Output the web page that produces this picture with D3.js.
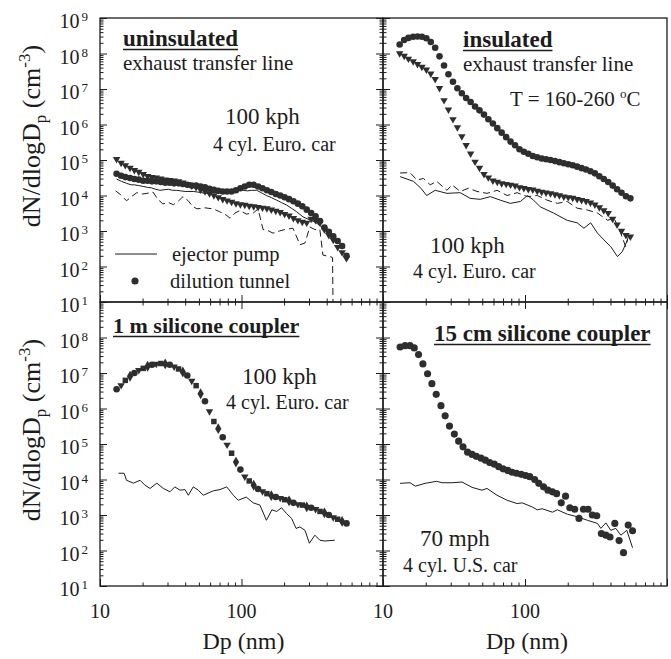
<!DOCTYPE html>
<html>
<head>
<meta charset="utf-8">
<script src="https://cdn.jsdelivr.net/npm/d3@7"></script>
<style>
  html, body { margin: 0; padding: 0; background: #fff; }
  svg text { font-family: "Liberation Serif", "Times New Roman", serif; fill: #1c1c1c; }
</style>
</head>
<body>
<svg id="chart" width="671" height="659"></svg>
<script>
// SMPS channel mid-point diameters (nm), shared by the marker series
const dpChannels = [13.1, 14.1, 15.1, 16.3, 17.5, 18.8, 20.2, 21.7, 23.3, 25.0,
  26.9, 28.9, 31.1, 33.4, 35.9, 38.5, 41.4, 44.5, 47.8, 51.4,
  55.2, 59.4, 63.8, 68.5, 73.7, 79.1, 85.1, 91.4, 98.2, 105.5,
  113.4, 121.9, 131.0, 140.7, 151.2, 162.5, 174.7, 187.7, 201.7, 216.7,
  232.9, 250.3, 269.0, 289.0, 310.6, 333.8, 358.7, 385.4, 414.2, 445.1,
  478.3, 514.0, 552.3];

// uninsulated line, dilution tunnel (two runs)
const tlTunnelCircle = [4.1e4, 3.6e4, 3.3e4, 3.1e4, 2.9e4, 2.8e4, 2.6e4, 2.6e4, 2.5e4, 2.5e4,
  2.4e4, 2.3e4, 2.3e4, 2.2e4, 2.2e4, 2.1e4, 2.0e4, 1.9e4, 1.9e4, 1.8e4,
  1.7e4, 1.55e4, 1.45e4, 1.35e4, 1.3e4, 1.3e4, 1.3e4, 1.4e4, 1.6e4, 1.8e4,
  2.0e4, 2.0e4, 1.8e4, 1.6e4, 1.4e4, 1.26e4, 1.1e4, 1.0e4, 8.9e3, 7.9e3,
  6.9e3, 5.9e3, 5.0e3, 4.0e3, 3.2e3, 2.6e3, 1.9e3, 1.26e3, 950, 710,
  520, 380, 200];
const tlTunnelTri = [1.05e5, 8.3e4, 7.1e4, 6.0e4, 5.2e4, 4.6e4, 4.0e4, 3.5e4, 3.3e4, 3.2e4,
  3.0e4, 2.8e4, 2.7e4, 2.6e4, 2.5e4, 2.3e4, 2.1e4, 1.9e4, 1.7e4, 1.45e4,
  1.3e4, 1.15e4, 1.0e4, 8.9e3, 7.9e3, 7.2e3, 6.6e3, 6.0e3, 5.6e3, 5.4e3,
  5.1e3, 4.9e3, 4.7e3, 4.5e3, 4.3e3, 4.0e3, 3.7e3, 3.4e3, 3.0e3, 2.7e3,
  2.3e3, 2.0e3, 1.8e3, 1.7e3, 2.2e3, 2.0e3, 1.7e3, 1.1e3, 760, 560,
  350, 250, 170];
// uninsulated line, ejector pump (two runs) as [Dp, dN/dlogDp]
const tlEjectorSolid = [[13.1, 2.9e4], [14.2, 2.5e4], [15.4, 2.2e4], [16.6, 2.0e4], [17.5, 2.0e4],
  [18.8, 1.9e4], [20.2, 1.8e4], [21.6, 1.7e4], [23.0, 1.65e4], [24.7, 1.5e4], [26.5, 1.4e4],
  [28.4, 1.45e4], [30.5, 1.5e4], [32.6, 1.4e4], [34.8, 1.4e4], [37.3, 1.35e4], [40.0, 1.3e4],
  [45.6, 1.3e4], [49.0, 1.25e4], [52.4, 1.2e4], [56.0, 1.15e4], [59.8, 1.15e4], [64.0, 1.2e4],
  [68.5, 1.3e4], [73.4, 1.25e4], [78.6, 1.3e4], [90.0, 1.35e4], [103, 1.4e4], [110, 1.35e4],
  [118, 1.4e4], [128, 1.4e4], [138, 1.2e4], [150, 1.0e4], [163, 8.7e3], [177, 7.4e3],
  [192, 6.3e3], [208, 5.4e3], [225, 4.4e3], [245, 3.5e3], [272, 2.5e3], [300, 2.1e3],
  [330, 1.8e3], [360, 1.4e3], [389, 1.1e3], [420, 850], [458, 630], [495, 450], [537, 330]];
const tlEjectorDash = [[12.9, 1.35e4], [14.0, 1.05e4], [15.4, 7.1e3], [16.7, 9.3e3], [18.2, 1.2e4],
  [20.0, 1.1e4], [21.5, 1.15e4], [23.7, 1.25e4], [25.5, 8.0e3], [27.8, 5.8e3], [30.5, 6.3e3],
  [33.0, 5.5e3], [36.0, 7.1e3], [38.6, 9.3e3], [42.0, 7.1e3], [45.0, 5.0e3], [48.5, 4.2e3],
  [55.0, 4.5e3], [62.9, 4.2e3], [70.0, 3.5e3], [78.0, 2.8e3], [83, 2.3e3], [90, 3.2e3],
  [97.7, 3.8e3], [108, 3.0e3], [121, 3.2e3], [131, 4.2e3], [142, 1.1e3], [152, 1.05e3],
  [167, 870], [185, 1.0e3], [203, 1.1e3], [231, 1.2e3], [259, 410], [281, 460], [304, 1.3e3],
  [330, 1.1e3], [358, 1.1e3], [376, 210], [420, 190], [440, 180], [444, 5]];

// insulated line
const trTunnelCircle = [1.8e8, 2.4e8, 2.75e8, 2.95e8, 3.0e8, 2.95e8, 2.7e8, 2.1e8, 1.45e8, 8.3e7,
  4.6e7, 2.6e7, 1.6e7, 1.05e7, 7.6e6, 5.6e6, 4.3e6, 3.2e6, 2.5e6, 1.9e6,
  1.4e6, 1.07e6, 7.9e5, 5.9e5, 4.4e5, 3.3e5, 2.6e5, 2.0e5, 1.7e5, 1.5e5,
  1.3e5, 1.2e5, 1.1e5, 1.05e5, 1.0e5, 9.3e4, 8.7e4, 8.1e4, 7.6e4, 7.1e4,
  6.5e4, 5.9e4, 5.4e4, 4.8e4, 4.2e4, 3.5e4, 2.9e4, 2.4e4, 1.9e4, 1.5e4,
  1.2e4, 9.5e3, 8.3e3];
const trTunnelTri = [1.0e8, 8.5e7, 7.1e7, 6.0e7, 5.0e7, 4.2e7, 3.5e7, 2.7e7, 1.9e7, 1.05e7,
  4.8e6, 2.6e6, 1.4e6, 8.3e5, 4.6e5, 2.6e5, 1.5e5, 8.9e4, 6.0e4, 4.0e4,
  3.2e4, 2.6e4, 2.4e4, 2.2e4, 2.1e4, 2.0e4, 1.9e4, 1.7e4, 1.6e4, 1.5e4,
  1.45e4, 1.35e4, 1.26e4, 1.2e4, 1.15e4, 1.07e4, 1.0e4, 9.3e3, 8.9e3, 8.5e3,
  7.9e3, 7.4e3, 6.9e3, 6.3e3, 5.5e3, 4.6e3, 3.8e3, 3.2e3, 2.2e3, 1.5e3,
  1.0e3, 760, 690];
const trEjectorSolid = [[13.2, 3.4e4], [16.4, 2.5e4], [18.5, 1.6e4], [20.3, 1.0e4], [23.3, 1.4e4],
  [28.2, 1.15e4], [35.0, 1.2e4], [41.1, 8.3e3], [48.4, 7.8e3], [57.0, 9.3e3], [67.0, 7.4e3],
  [78.8, 6.0e3], [93, 6.8e3], [104, 1.0e4], [115, 7.4e3], [128, 4.8e3], [159, 3.2e3],
  [198, 2.0e3], [233, 1.7e3], [260, 1.2e3], [290, 1.7e3], [324, 870], [360, 560],
  [402, 360], [448, 190], [484, 260], [527, 560]];
const trEjectorDash = [[13.2, 4.3e4], [15.5, 4.4e4], [17.3, 2.75e4], [19.3, 3.0e4], [21.5, 2.0e4],
  [23.9, 2.5e4], [28.2, 1.4e4], [30.6, 2.0e4], [35.0, 1.3e4], [40.0, 1.6e4], [45.9, 1.3e4],
  [54.0, 1.15e4], [63.6, 1.4e4], [74.8, 1.0e4], [88, 1.2e4], [104, 9.3e3], [122, 1.0e4],
  [143, 7.4e3], [169, 6.0e3], [198, 6.8e3], [233, 4.4e3], [275, 3.9e3], [324, 3.2e3],
  [382, 2.0e3], [424, 2.3e3], [472, 870], [512, 360], [541, 870]];

// 1 m silicone coupler (four overlapping tunnel scans share the curve)
const blTunnel = [3.5e6, 4.5e6, 6.2e6, 8.1e6, 1.0e7, 1.2e7, 1.35e7, 1.55e7, 1.7e7, 1.8e7,
  1.85e7, 1.8e7, 1.7e7, 1.5e7, 1.3e7, 1.07e7, 8.5e6, 6.0e6, 4.4e6, 2.6e6,
  1.6e6, 8.3e5, 4.3e5, 2.7e5, 1.55e5, 9.5e4, 5.5e4, 3.1e4, 1.9e4, 1.2e4,
  9.1e3, 6.9e3, 5.4e3, 4.6e3, 4.0e3, 3.5e3, 3.2e3, 3.0e3, 2.7e3, 2.5e3,
  2.2e3, 2.0e3, 1.9e3, 1.7e3, 1.6e3, 1.45e3, 1.26e3, 1.15e3, 1.0e3, 850,
  760, 660, 580];
const blEjector = [[13.5, 1.5e4], [14.8, 1.5e4], [15.4, 9.5e3], [17.2, 7.9e3], [19.2, 9.5e3],
  [20.8, 6.9e3], [22.6, 5.6e3], [25.2, 7.9e3], [28.0, 5.6e3], [31.2, 4.5e3], [33.8, 6.2e3],
  [36.7, 5.0e3], [39.9, 5.2e3], [42.1, 3.6e3], [45.6, 6.2e3], [49.5, 5.0e3], [53.7, 3.6e3],
  [63.1, 4.8e3], [70.5, 5.2e3], [78.6, 6.2e3], [87.6, 3.6e3], [94.9, 2.6e3], [108, 3.2e3],
  [121, 2.2e3], [135, 1.9e3], [150, 710], [164, 1.4e3], [177, 1.26e3], [192, 1.6e3],
  [208, 1.1e3], [226, 800], [243, 420], [259, 460], [281, 370], [302, 160], [330, 270],
  [358, 195], [388, 185], [456, 195]];

// 15 cm silicone coupler
const brTunnel = [[13.2, 5.4e7], [14.3, 5.9e7], [15.5, 5.9e7], [16.6, 5.1e7], [17.8, 3.3e7],
  [19.1, 1.8e7], [20.6, 9.5e6], [22.1, 5.0e6], [23.7, 2.5e6], [25.6, 1.2e6], [27.4, 6.2e5],
  [29.4, 3.2e5], [31.8, 1.9e5], [34.1, 1.2e5], [36.6, 8.3e4], [39.4, 5.9e4], [42.4, 5.1e4],
  [45.4, 4.5e4], [49.0, 4.0e4], [52.6, 3.5e4], [56.4, 3.0e4], [60.8, 2.7e4], [65.3, 2.3e4],
  [70.1, 2.0e4], [75.6, 1.8e4], [81.2, 1.6e4], [87.1, 1.5e4], [94.0, 1.4e4], [101, 1.3e4],
  [108, 1.2e4], [117, 1.0e4], [125, 7.8e3], [135, 6.2e3], [145, 5.0e3], [156, 4.5e3],
  [167, 4.0e3], [180, 2.2e3], [193, 3.4e3], [207, 1.6e3], [224, 1.45e3], [240, 800],
  [258, 1.45e3], [278, 1.45e3], [298, 1.0e3], [320, 950], [345, 300], [371, 270], [397, 240],
  [429, 580], [460, 190], [494, 87], [533, 520], [572, 360]];
const brEjector = [[13.2, 7.8e3], [15.5, 8.1e3], [16.9, 6.5e3], [19.8, 7.8e3], [23.9, 8.9e3],
  [26.0, 8.1e3], [30.6, 8.1e3], [36.0, 8.5e3], [42.4, 6.0e3], [49.8, 5.0e3], [54, 5.6e3],
  [63.6, 3.6e3], [74.8, 2.6e3], [88, 2.1e3], [95.5, 2.2e3], [112, 1.7e3], [122, 1.4e3],
  [132, 1.5e3], [156, 1.2e3], [169, 1.4e3], [199, 1.05e3], [234, 890], [275, 710],
  [324, 580], [342, 420], [371, 600], [402, 370], [436, 420], [473, 270], [521, 370],
  [572, 120]];

// axis tick labels
const yExpTop = [1, 2, 3, 4, 5, 6, 7, 8, 9];
const yExpBottom = [1, 2, 3, 4, 5, 6, 7, 8];
const xTickLabels = [10, 100];

const svg = d3.select('#chart');
const ink = '#1c1c1c';
const markFill = '#2e2e2e';

const colX = [100, 383], colW = [283, 284];
const rowY = [18, 302], rowH = 284;

const withDp = vals => dpChannels.map((d, i) => [d, vals[i]]);

const panels = [
  {
    id: 'tl', col: 0, row: 0,
    lines: [{ data: tlEjectorSolid }, { data: tlEjectorDash, dash: '7,4' }],
    marks: [{ data: withDp(tlTunnelTri), shape: 'tri' }, { data: withDp(tlTunnelCircle), shape: 'circle' }],
    notes: [
      { t: 'uninsulated', x: 123, y: 46, size: 23, bold: true, underline: true },
      { t: 'exhaust transfer line', x: 123, y: 70, size: 21 },
      { t: '100 kph', x: 225, y: 124, size: 23 },
      { t: '4 cyl. Euro. car', x: 213, y: 151, size: 20 }
    ]
  },
  {
    id: 'tr', col: 1, row: 0,
    lines: [{ data: trEjectorSolid }, { data: trEjectorDash, dash: '7,4' }],
    marks: [{ data: withDp(trTunnelTri), shape: 'tri' }, { data: withDp(trTunnelCircle), shape: 'circle' }],
    notes: [
      { t: 'insulated', x: 463, y: 47, size: 23, bold: true, underline: true },
      { t: 'exhaust transfer line', x: 463, y: 71, size: 21 },
      { t: 'T = 160-260 ', sup: 'o', after: 'C', x: 510, y: 106, size: 21 },
      { t: '100 kph', x: 430, y: 253, size: 23 },
      { t: '4 cyl. Euro. car', x: 413, y: 278, size: 20 }
    ]
  },
  {
    id: 'bl', col: 0, row: 1,
    lines: [{ data: blEjector }],
    marks: [{ data: withDp(blTunnel), shape: 'cycle' }],
    notes: [
      { t: '1 m silicone coupler', x: 113, y: 333, size: 22, bold: true, underline: true },
      { t: '100 kph', x: 242, y: 384, size: 23 },
      { t: '4 cyl. Euro. car', x: 226, y: 409, size: 20 }
    ]
  },
  {
    id: 'br', col: 1, row: 1,
    lines: [{ data: brEjector }],
    marks: [{ data: brTunnel, shape: 'circle', size: 40 }],
    notes: [
      { t: '15 cm silicone coupler', x: 434, y: 341, size: 23, bold: true, underline: true },
      { t: '70 mph', x: 420, y: 546, size: 23 },
      { t: '4 cyl. U.S. car', x: 403, y: 572, size: 20 }
    ]
  }
];

const shapeCycle = ['circle', 'tri', 'square', 'diamond'];
const symbolFor = {
  circle: d3.symbol().type(d3.symbolCircle).size(34),
  tri: d3.symbol().type(d3.symbolTriangle).size(24),
  square: d3.symbol().type(d3.symbolSquare).size(30),
  diamond: d3.symbol().type(d3.symbolDiamond).size(34)
};

function minorTicks(lo, hi) {
  const out = [];
  for (let k = lo; k < hi; k++) {
    for (let m = 2; m <= 9; m++) out.push(m * Math.pow(10, k));
  }
  return out;
}
const xMajor = [10, 100, 1000], xMinor = minorTicks(1, 3);
const yMajor = d3.range(1, 10).map(e => Math.pow(10, e)), yMinor = minorTicks(1, 9);

function tickGroup(g, axis, pos, attr) {
  const t = g.append('g')
    .attr('transform', attr === 'x' ? `translate(${pos},0)` : `translate(0,${pos})`)
    .attr('color', ink)
    .call(axis);
  t.select('.domain').remove();
  t.selectAll('line').attr('stroke-width', 1);
}

panels.forEach(p => {
  const x0 = colX[p.col], w = colW[p.col];
  const y0 = rowY[p.row], h = rowH;
  const x = d3.scaleLog().domain([10, 1000]).range([x0, x0 + w]);
  const y = d3.scaleLog().domain([10, 1e9]).range([y0 + h, y0]);
  const g = svg.append('g').attr('class', 'panel-' + p.id);

  svg.append('clipPath').attr('id', 'clip-' + p.id)
    .append('rect').attr('x', x0).attr('y', y0).attr('width', w).attr('height', h);

  // ticks, all pointing into the frame
  const side = [
    ['left', d3.axisLeft, y, x0, 'x'],
    ['bottom', d3.axisBottom, x, y0 + h, 'y']
  ];
  if (p.col === 0) side.push(['right', d3.axisRight, y, x0 + w, 'x']);
  if (p.row === 1) side.push(['top', d3.axisTop, x, y0, 'y']);
  side.forEach(([name, ax, sc, pos, attr]) => {
    const isY = sc === y;
    const majors = isY ? yMajor : xMajor, minors = isY ? yMinor : xMinor;
    tickGroup(g, ax(sc).tickValues(majors).tickSize(-7).tickFormat(''), pos, attr);
    tickGroup(g, ax(sc).tickValues(minors).tickSize(-3.5).tickFormat(''), pos, attr);
  });

  const plot = g.append('g').attr('clip-path', `url(#clip-${p.id})`);
  const line = d3.line().x(d => x(d[0])).y(d => y(d[1]));

  p.lines.forEach(l => {
    plot.append('path')
      .datum(l.data)
      .attr('d', line)
      .attr('fill', 'none')
      .attr('stroke', ink)
      .attr('stroke-width', 1)
      .attr('stroke-dasharray', l.dash || null);
  });

  p.marks.forEach(m => {
    plot.append('g').selectAll('path')
      .data(m.data)
      .join('path')
      .attr('d', (d, i) => {
        const s = m.shape === 'cycle' ? shapeCycle[i % 4] : m.shape;
        if (m.size && s === 'circle') return d3.symbol().type(d3.symbolCircle).size(m.size)();
        return symbolFor[s]();
      })
      .attr('transform', (d, i) => {
        const s = m.shape === 'cycle' ? shapeCycle[i % 4] : m.shape;
        const rot = s === 'tri' ? ' rotate(180)' : '';
        return `translate(${x(d[0])},${y(d[1])})${rot}`;
      })
      .attr('fill', markFill);
  });

  // frame
  g.append('rect')
    .attr('x', x0).attr('y', y0).attr('width', w).attr('height', h)
    .attr('fill', 'none').attr('stroke', ink).attr('stroke-width', 1.3);

  // annotations
  p.notes.forEach(n => {
    const txt = g.append('text')
      .attr('x', n.x).attr('y', n.y)
      .style('font-size', n.size + 'px')
      .style('font-weight', n.bold ? 'bold' : null);
    txt.append('tspan').text(n.t);
    if (n.sup) {
      txt.append('tspan').attr('dy', -8).style('font-size', '13px').text(n.sup);
      txt.append('tspan').attr('dy', 8).text(n.after);
    }
    if (n.underline) {
      const len = txt.node().getComputedTextLength();
      g.append('line')
        .attr('x1', n.x).attr('x2', n.x + len)
        .attr('y1', n.y + 3.5).attr('y2', n.y + 3.5)
        .attr('stroke', ink).attr('stroke-width', 1.6);
    }
  });

  // y tick labels and y title on the left column
  if (p.col === 0) {
    const exps = p.row === 0 ? yExpTop : yExpBottom;
    exps.forEach(e => {
      const t = g.append('text')
        .attr('x', 88).attr('y', y(Math.pow(10, e)) + 10)
        .attr('text-anchor', 'end')
        .style('font-size', '20px');
      t.append('tspan').text('10');
      t.append('tspan').attr('dx', 2).attr('dy', -7).style('font-size', '13px').text(e);
    });

    const ty = p.row === 0 ? 136 : 430;
    const title = g.append('text')
      .attr('transform', `translate(40,${ty}) rotate(-90)`)
      .attr('text-anchor', 'middle')
      .style('font-size', '26px');
    title.append('tspan').text('dN/dlogD');
    title.append('tspan').attr('dy', 6).style('font-size', '17px').text('p');
    title.append('tspan').attr('dy', -6).text(' (cm');
    title.append('tspan').attr('dy', -10).style('font-size', '17px').text('-3');
    title.append('tspan').attr('dy', 10).text(')');
  }

  // x tick labels and x title on the bottom row
  if (p.row === 1) {
    xTickLabels.forEach(v => {
      g.append('text')
        .attr('x', x(v)).attr('y', y0 + h + 32)
        .attr('text-anchor', 'middle')
        .style('font-size', '20px')
        .text(v);
    });
    g.append('text')
      .attr('x', x0 + w / 2 + 2).attr('y', 649)
      .attr('text-anchor', 'middle')
      .style('font-size', '24px')
      .text('Dp (nm)');
  }
});

// legend in the uninsulated panel
const legend = svg.append('g');
legend.append('line')
  .attr('x1', 115).attr('x2', 157).attr('y1', 254).attr('y2', 254)
  .attr('stroke', ink).attr('stroke-width', 1);
legend.append('text').attr('x', 172).attr('y', 261).style('font-size', '20.5px').text('ejector pump');
legend.append('path')
  .attr('d', d3.symbol().type(d3.symbolCircle).size(40)())
  .attr('transform', 'translate(135,281)')
  .attr('fill', markFill);
legend.append('text').attr('x', 170).attr('y', 288).style('font-size', '20.5px').text('dilution tunnel');
</script>
</body>
</html>
